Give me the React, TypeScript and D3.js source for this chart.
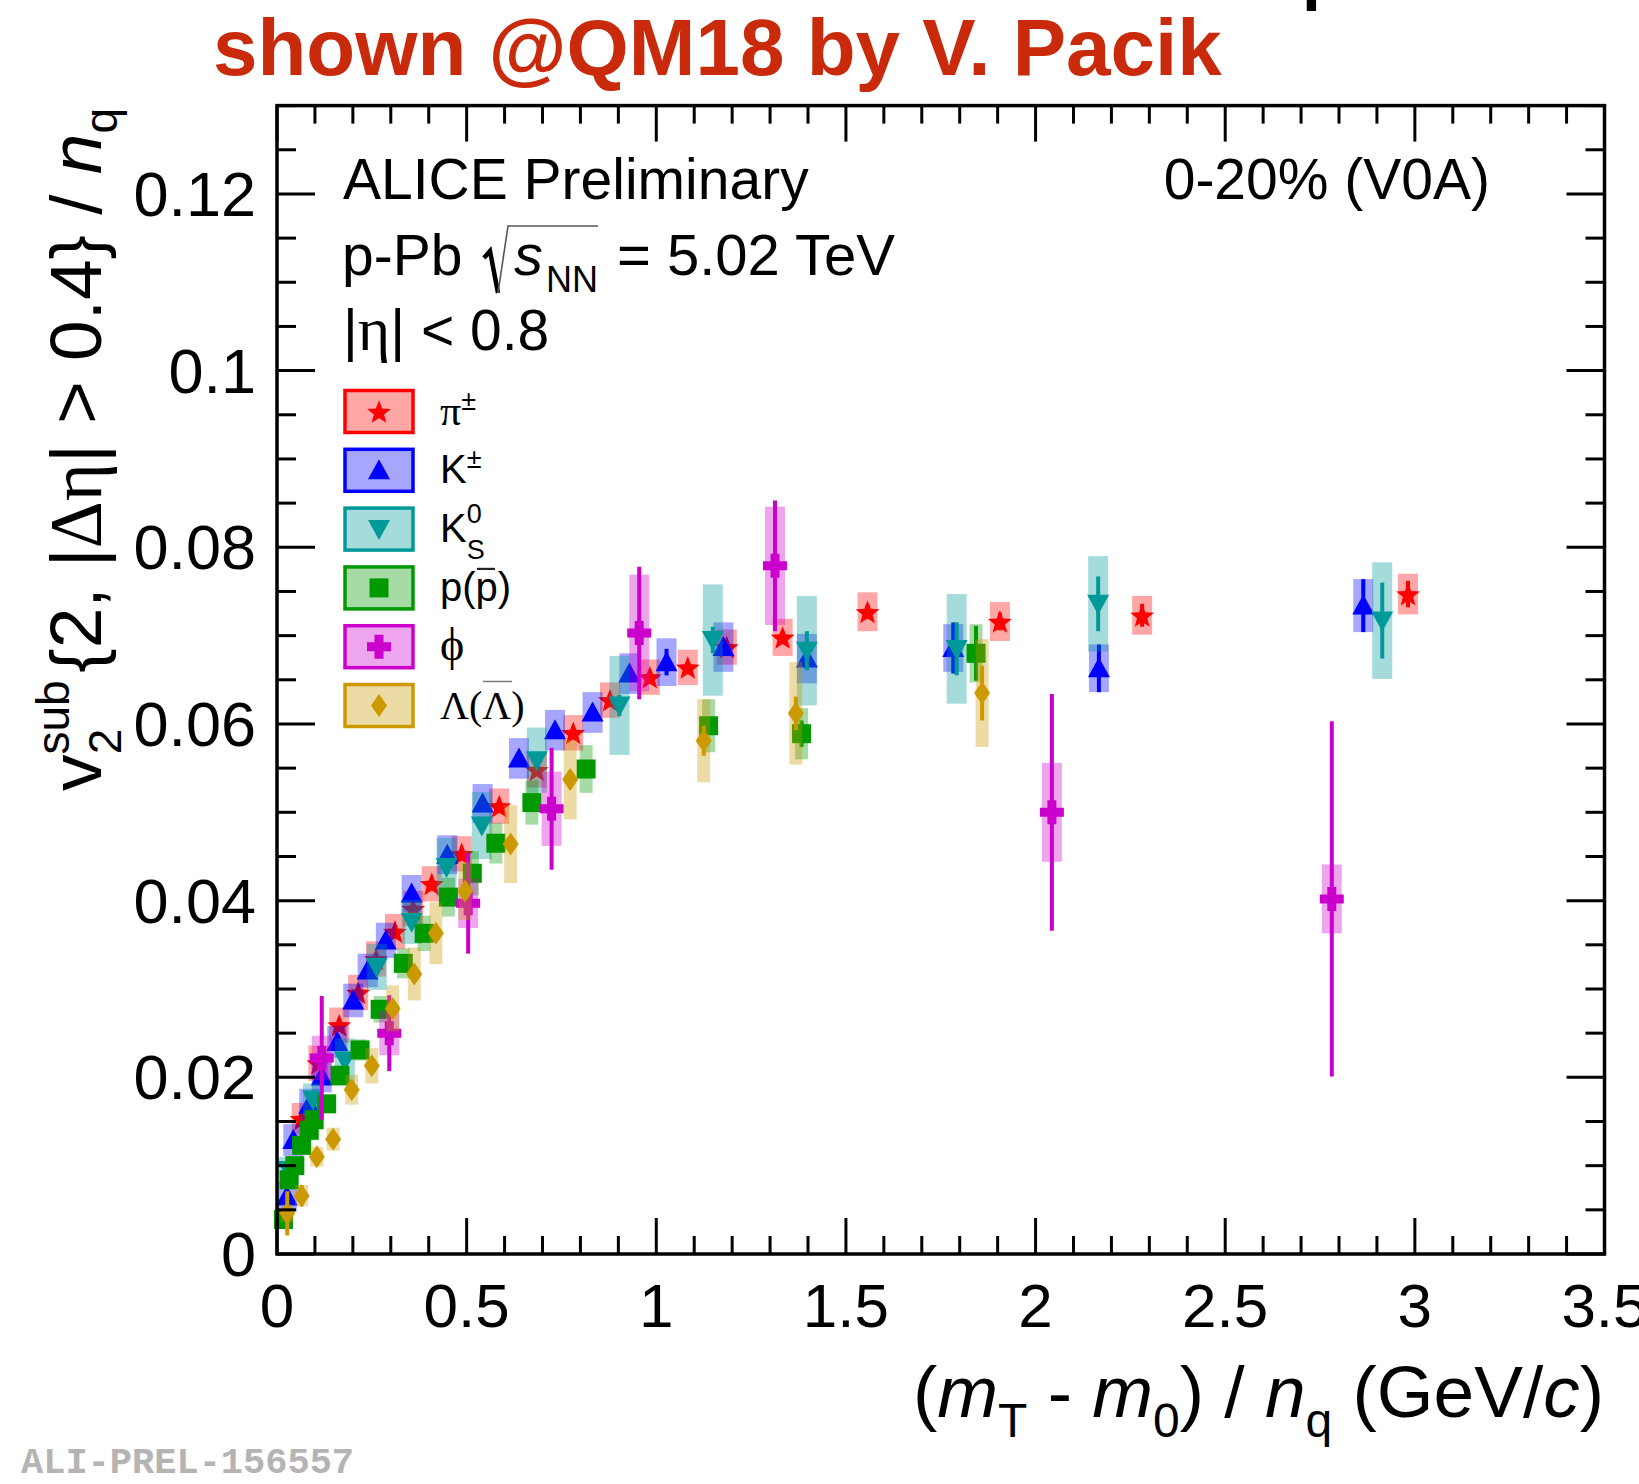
import React from 'react';
import * as d3 from 'd3';

// Each point: [(mT - m0)/nq in GeV/c, v2sub/nq, stat. error, syst. error]
type Point = [number, number, number, number];

const pionData: Point[] = [
  [0.065, 0.0153, 0.0004, 0.0018],
  [0.109, 0.0216, 0.0004, 0.002],
  [0.164, 0.0259, 0.0004, 0.002],
  [0.214, 0.0296, 0.0004, 0.002],
  [0.261, 0.0334, 0.0004, 0.002],
  [0.311, 0.0365, 0.0004, 0.002],
  [0.359, 0.0391, 0.0004, 0.002],
  [0.408, 0.0419, 0.0004, 0.002],
  [0.487, 0.0453, 0.0004, 0.002],
  [0.586, 0.0507, 0.0004, 0.002],
  [0.685, 0.0548, 0.0005, 0.002],
  [0.781, 0.059, 0.0005, 0.002],
  [0.878, 0.0627, 0.0005, 0.002],
  [0.983, 0.0653, 0.0005, 0.002],
  [1.083, 0.0664, 0.0006, 0.002],
  [1.186, 0.0687, 0.0006, 0.002],
  [1.333, 0.0698, 0.0007, 0.0021],
  [1.557, 0.0727, 0.0008, 0.0022],
  [1.906, 0.0716, 0.001, 0.0022],
  [2.281, 0.0723, 0.0013, 0.0022],
  [2.982, 0.0747, 0.0015, 0.0023],
];

const kaonData: Point[] = [
  [0.026, 0.0065, 0.0005, 0.0017],
  [0.043, 0.0129, 0.0005, 0.0018],
  [0.085, 0.0169, 0.0005, 0.0018],
  [0.118, 0.0201, 0.0005, 0.0018],
  [0.159, 0.024, 0.0005, 0.0018],
  [0.201, 0.0287, 0.0005, 0.0019],
  [0.239, 0.0321, 0.0005, 0.0019],
  [0.287, 0.0355, 0.0005, 0.002],
  [0.355, 0.0408, 0.0005, 0.0021],
  [0.449, 0.0452, 0.0005, 0.0022],
  [0.542, 0.051, 0.0006, 0.0022],
  [0.638, 0.0561, 0.0006, 0.0023],
  [0.733, 0.0593, 0.0006, 0.0023],
  [0.832, 0.0613, 0.0007, 0.0023],
  [0.929, 0.0657, 0.0008, 0.0023],
  [1.027, 0.067, 0.0015, 0.0027],
  [1.177, 0.0687, 0.001, 0.0028],
  [1.397, 0.0674, 0.0013, 0.0028],
  [1.783, 0.0686, 0.0029, 0.0027],
  [2.167, 0.0663, 0.0027, 0.0027],
  [2.864, 0.0734, 0.003, 0.003],
];

const k0sData: Point[] = [
  [0.03, 0.0095, 0.0005, 0.0015],
  [0.095, 0.0175, 0.0005, 0.0018],
  [0.179, 0.0219, 0.0005, 0.0025],
  [0.263, 0.0325, 0.0005, 0.0026],
  [0.355, 0.0376, 0.0005, 0.0025],
  [0.447, 0.0438, 0.0005, 0.0033],
  [0.54, 0.0485, 0.0006, 0.0038],
  [0.685, 0.0559, 0.0008, 0.0037],
  [0.903, 0.0621, 0.0012, 0.0056],
  [1.149, 0.0695, 0.0015, 0.0063],
  [1.397, 0.0683, 0.0022, 0.0062],
  [1.792, 0.0685, 0.003, 0.0062],
  [2.165, 0.0736, 0.0031, 0.0054],
  [2.914, 0.0717, 0.0043, 0.0066],
];

const protonData: Point[] = [
  [0.017, 0.0039, 0.0003, 0.001],
  [0.032, 0.0084, 0.0003, 0.001],
  [0.047, 0.01, 0.0003, 0.001],
  [0.065, 0.0123, 0.0003, 0.001],
  [0.085, 0.014, 0.0003, 0.001],
  [0.098, 0.0152, 0.0003, 0.001],
  [0.131, 0.017, 0.0003, 0.001],
  [0.166, 0.0202, 0.0003, 0.0012],
  [0.219, 0.0231, 0.0003, 0.0012],
  [0.272, 0.0277, 0.0004, 0.0015],
  [0.333, 0.0329, 0.0004, 0.0017],
  [0.388, 0.0363, 0.0004, 0.002],
  [0.452, 0.0404, 0.0005, 0.0022],
  [0.515, 0.0431, 0.0005, 0.0025],
  [0.577, 0.0465, 0.0006, 0.0023],
  [0.672, 0.0511, 0.0007, 0.0025],
  [0.815, 0.0549, 0.0008, 0.0027],
  [1.138, 0.0598, 0.001, 0.003],
  [1.383, 0.0589, 0.0015, 0.0029],
  [1.843, 0.068, 0.0031, 0.0033],
];

const phiData: Point[] = [
  [0.118, 0.0222, 0.007, 0.0025],
  [0.296, 0.025, 0.0043, 0.0025],
  [0.504, 0.0397, 0.0057, 0.0028],
  [0.724, 0.0504, 0.0069, 0.0042],
  [0.955, 0.0703, 0.0075, 0.0066],
  [1.313, 0.0779, 0.0074, 0.0067],
  [2.043, 0.05, 0.0134, 0.0056],
  [2.781, 0.0402, 0.0201, 0.0039],
];

const lambdaData: Point[] = [
  [0.027, 0.0046, 0.0025, 0.001],
  [0.065, 0.0066, 0.0012, 0.0012],
  [0.105, 0.011, 0.0005, 0.0011],
  [0.148, 0.013, 0.0005, 0.0013],
  [0.197, 0.0186, 0.0005, 0.0017],
  [0.25, 0.0213, 0.0005, 0.002],
  [0.305, 0.0278, 0.0005, 0.0026],
  [0.362, 0.0317, 0.0006, 0.003],
  [0.419, 0.0363, 0.0006, 0.0035],
  [0.496, 0.0411, 0.0007, 0.0033],
  [0.616, 0.0464, 0.0008, 0.0044],
  [0.773, 0.0537, 0.001, 0.0045],
  [1.125, 0.0581, 0.0017, 0.0047],
  [1.368, 0.0612, 0.0019, 0.0058],
  [1.859, 0.0635, 0.0031, 0.0061],
];

const xTickValues = [0, 0.5, 1, 1.5, 2, 2.5, 3, 3.5];
const yTickValues = [0, 0.02, 0.04, 0.06, 0.08, 0.1, 0.12];
const xMinorStep = 0.1;
const yMinorStep = 0.005;

const SANS = '"Liberation Sans", Arial, Helvetica, sans-serif';
const SERIF = '"Liberation Serif", "Times New Roman", serif';
const MONO = '"Liberation Mono", "Courier New", monospace';

const W = 1639;
const H = 1484;
const PLOT = { left: 277, right: 1604.5, top: 105.6, bottom: 1254 };

const xScale = d3.scaleLinear().domain([0, 3.5]).range([PLOT.left, PLOT.right]);
const yScale = d3.scaleLinear().domain([0, 0.13]).range([PLOT.bottom, PLOT.top]);

type MarkerKind = 'star' | 'triUp' | 'triDown' | 'square' | 'cross' | 'diamond';

// five-pointed star outline around the origin
function starPath(outer: number, inner: number): string {
  const pts = d3.range(10).map((i) => {
    const r = i % 2 === 0 ? outer : inner;
    const a = (i * Math.PI) / 5 - Math.PI / 2;
    return [r * Math.cos(a), r * Math.sin(a) + outer * 0.1] as [number, number];
  });
  return (d3.line()(pts) as string) + 'Z';
}

function markerPath(kind: MarkerKind): string {
  switch (kind) {
    case 'star':
      return starPath(12.5, 5.4);
    case 'triUp':
      return 'M0,-11L11,9L-11,9Z';
    case 'triDown':
      return 'M0,11L11,-9L-11,-9Z';
    case 'square':
      return 'M-9.5,-9.5H9.5V9.5H-9.5Z';
    case 'diamond':
      return 'M0,-11.5L8,0L0,11.5L-8,0Z';
    case 'cross': {
      const a = 12;
      const t = 4.5;
      return `M${-t},${-a}H${t}V${-t}H${a}V${t}H${t}V${a}H${-t}V${t}H${-a}V${-t}H${-t}Z`;
    }
  }
}

interface Series {
  key: string;
  data: Point[];
  color: string;
  marker: MarkerKind;
  boxWidth: number;
}

const seriesList: Series[] = [
  { key: 'pion', data: pionData, color: '#ff0000', marker: 'star', boxWidth: 20 },
  { key: 'kaon', data: kaonData, color: '#0000ff', marker: 'triUp', boxWidth: 20 },
  { key: 'k0s', data: k0sData, color: '#009999', marker: 'triDown', boxWidth: 20 },
  { key: 'proton', data: protonData, color: '#009900', marker: 'square', boxWidth: 13 },
  { key: 'phi', data: phiData, color: '#cc00cc', marker: 'cross', boxWidth: 20 },
  { key: 'lambda', data: lambdaData, color: '#cc9900', marker: 'diamond', boxWidth: 13 },
];

const fmt = (v: number) => String(+v.toFixed(3));

function LegendLabel({ k, cy }: { k: string; cy: number }) {
  const ss = 27;
  const base = cy + 13;
  switch (k) {
    case 'pion':
      return (
        <text x={440} y={base} fontSize={40}>
          <tspan fontFamily={SERIF} fontSize={42}>π</tspan>
          <tspan fontSize={ss} dy={-15}>±</tspan>
        </text>
      );
    case 'kaon':
      return (
        <text x={440} y={base} fontSize={40}>
          <tspan>K</tspan>
          <tspan fontSize={ss} dy={-15}>±</tspan>
        </text>
      );
    case 'k0s':
      return (
        <text x={440} y={base} fontSize={40}>
          <tspan>K</tspan>
          <tspan fontSize={ss} dy={-19}>0</tspan>
          <tspan fontSize={ss} dx={-15} dy={36}>S</tspan>
        </text>
      );
    case 'proton':
      return (
        <g>
          <text x={440} y={base} fontSize={40}>
            p(p)
          </text>
          <line x1={477} x2={495} y1={cy - 19} y2={cy - 19} stroke="#222" strokeWidth={2.2} />
        </g>
      );
    case 'phi':
      return (
        <text x={440} y={base} fontSize={46} fontFamily={SERIF}>
          ϕ
        </text>
      );
    case 'lambda':
      return (
        <g>
          <text x={440} y={base} fontSize={40} fontFamily={SERIF}>
            Λ(Λ)
          </text>
          <line x1={483} x2={512} y1={cy - 24} y2={cy - 24} stroke="#777" strokeWidth={1.5} />
        </g>
      );
  }
  return null;
}

export default function App() {
  const xMinor = d3.range(0, 36).map((i) => i * xMinorStep);
  const yMinor = d3.range(0, 27).map((i) => i * yMinorStep);
  const legendY0 = 411.5;
  const legendDy = 58.8;

  return (
    <div style={{ position: 'absolute', left: 0, top: 0 }}>
      <svg width={W} height={H} style={{ display: 'block', background: '#fff' }} fontFamily={SANS}>
        <rect x={0} y={0} width={W} height={H} fill="#fff" />

        {/* header */}
        <text x={213} y={75} fontSize={80} fontWeight="bold" fill="#c92a0c">
          shown @QM18 by V. Pacik
        </text>
        <text x={1302} y={-3} fontSize={68} fontWeight="bold" fill="#000">
          p
        </text>

        {/* data: syst. boxes, stat. bars, markers */}
        {seriesList.map((s) => (
          <g key={s.key}>
            {s.data.map((p, i) => (
              <rect
                key={`b${i}`}
                x={xScale(p[0]) - s.boxWidth / 2}
                y={yScale(p[1] + p[3])}
                width={s.boxWidth}
                height={yScale(p[1] - p[3]) - yScale(p[1] + p[3])}
                fill={s.color}
                fillOpacity={0.35}
              />
            ))}
            {s.data.map((p, i) => (
              <line
                key={`e${i}`}
                x1={xScale(p[0])}
                x2={xScale(p[0])}
                y1={yScale(p[1] + p[2])}
                y2={yScale(p[1] - p[2])}
                stroke={s.color}
                strokeWidth={4}
              />
            ))}
            {s.data.map((p, i) => (
              <path
                key={`m${i}`}
                d={markerPath(s.marker)}
                transform={`translate(${xScale(p[0])},${yScale(p[1])})`}
                fill={s.color}
              />
            ))}
          </g>
        ))}

        {/* frame and ticks */}
        <rect
          x={PLOT.left}
          y={PLOT.top}
          width={PLOT.right - PLOT.left}
          height={PLOT.bottom - PLOT.top}
          fill="none"
          stroke="#000"
          strokeWidth={3.5}
        />
        {xMinor.map((v, i) => {
          const major = i % 5 === 0;
          const len = major ? 36 : 18;
          const x = xScale(v);
          return (
            <g key={`xt${i}`} stroke="#000" strokeWidth={3}>
              <line x1={x} x2={x} y1={PLOT.bottom} y2={PLOT.bottom - len} />
              <line x1={x} x2={x} y1={PLOT.top} y2={PLOT.top + len} />
            </g>
          );
        })}
        {yMinor.map((v, i) => {
          const major = i % 4 === 0;
          const len = major ? 38 : 19;
          const y = yScale(v);
          return (
            <g key={`yt${i}`} stroke="#000" strokeWidth={3}>
              <line x1={PLOT.left} x2={PLOT.left + len} y1={y} y2={y} />
              <line x1={PLOT.right} x2={PLOT.right - len} y1={y} y2={y} />
            </g>
          );
        })}

        {/* tick labels */}
        {xTickValues.map((v) => (
          <text key={`xl${v}`} x={xScale(v)} y={1327} fontSize={62} textAnchor="middle">
            {fmt(v)}
          </text>
        ))}
        {yTickValues.map((v) => (
          <text key={`yl${v}`} x={256} y={yScale(v)} dy="0.35em" fontSize={63} textAnchor="end">
            {fmt(v)}
          </text>
        ))}

        {/* axis titles */}
        <text x={1604} y={1417} fontSize={73} textAnchor="end">
          (<tspan fontStyle="italic">m</tspan>
          <tspan fontSize={48} dy={20}>T</tspan>
          <tspan dy={-20}>{' - '}</tspan>
          <tspan fontStyle="italic">m</tspan>
          <tspan fontSize={48} dy={20}>0</tspan>
          <tspan dy={-20}>{') / '}</tspan>
          <tspan fontStyle="italic">n</tspan>
          <tspan fontSize={48} dy={20}>q</tspan>
          <tspan dy={-20}>{' (GeV/'}</tspan>
          <tspan fontStyle="italic">c</tspan>
          <tspan>)</tspan>
        </text>
        <text transform="translate(101,108) rotate(-90)" fontSize={73} textAnchor="end">
          <tspan>v</tspan>
          <tspan fontSize={46} dy={-32}>sub</tspan>
          <tspan fontSize={46} dx={-74} dy={52}>2</tspan>
          <tspan dx={56} dy={-20}>{'{2, |'}</tspan>
          <tspan fontFamily={SERIF}>Δη</tspan>
          <tspan>{'| > 0.4} / '}</tspan>
          <tspan fontStyle="italic">n</tspan>
          <tspan fontSize={46} dy={16}>q</tspan>
        </text>

        {/* annotations */}
        <text x={343} y={199} fontSize={57}>
          ALICE Preliminary
        </text>
        <text x={1490} y={199} fontSize={57} textAnchor="end">
          0-20% (V0A)
        </text>
        <text x={342} y={275} fontSize={57}>
          p-Pb
        </text>
        <path d="M484,258L490,251L498,293" fill="none" stroke="#000" strokeWidth={4.5} />
        <path d="M498,293L508,226H598" fill="none" stroke="#555" strokeWidth={1.6} />
        <text x={514} y={275} fontSize={58} fontStyle="italic">
          s
        </text>
        <text x={546} y={292} fontSize={36}>
          NN
        </text>
        <text x={617} y={275} fontSize={58}>
          = 5.02 TeV
        </text>
        <text x={343} y={350} fontSize={57}>
          <tspan>|</tspan>
          <tspan fontFamily={SERIF} fontSize={62}>η</tspan>
          <tspan>|</tspan>
          <tspan>{' < 0.8'}</tspan>
        </text>

        {/* legend */}
        {seriesList.map((s, i) => {
          const cy = legendY0 + i * legendDy;
          return (
            <g key={`lg${s.key}`}>
              <rect
                x={345}
                y={cy - 21}
                width={68}
                height={42}
                fill={s.color}
                fillOpacity={0.35}
                stroke={s.color}
                strokeWidth={3.5}
              />
              <path d={markerPath(s.marker)} transform={`translate(379,${cy})`} fill={s.color} />
              <LegendLabel k={s.key} cy={cy} />
            </g>
          );
        })}

        {/* footer */}
        <text x={21} y={1473} fontSize={37} fontWeight="bold" fontFamily={MONO} fill="#b4b4b4">
          ALI-PREL-156557
        </text>
      </svg>
    </div>
  );
}
